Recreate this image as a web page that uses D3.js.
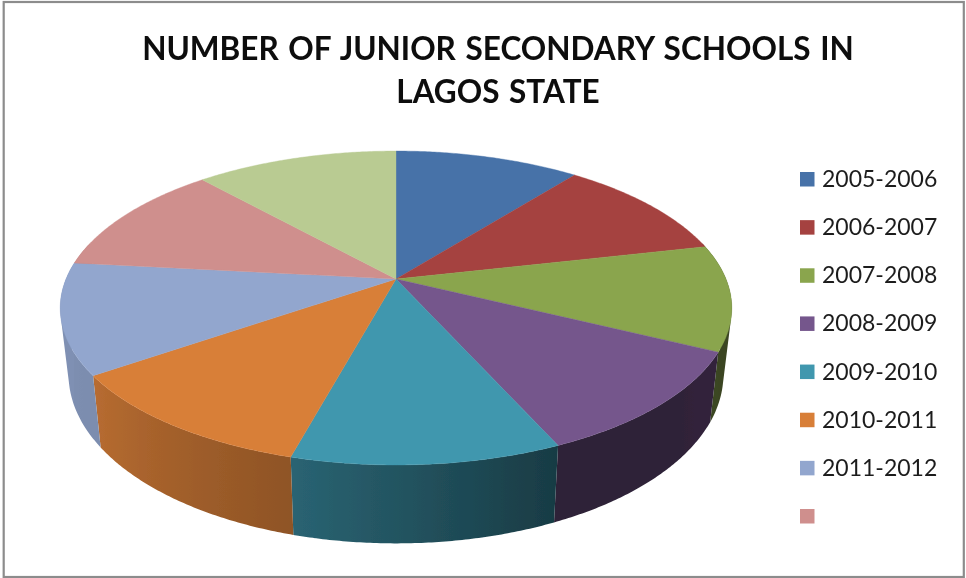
<!DOCTYPE html>
<html>
<head>
<meta charset="utf-8">
<script src="https://cdn.jsdelivr.net/npm/d3@7"></script>
<style>
html,body{margin:0;padding:0;background:#fff;overflow:hidden}
svg{display:block}
</style>
</head>
<body>
<svg id="chart" width="966" height="578"></svg>
<script>
const titleLines = ["NUMBER OF JUNIOR SECONDARY SCHOOLS IN", "LAGOS STATE"];
const legendLabels = ["2005-2006","2006-2007","2007-2008","2008-2009","2009-2010","2010-2011","2011-2012",""];
const values = [383, 389, 391, 396, 393, 400, 410, 419, 419];
const colors = ["#4672a8","#a5423f","#8aa54e","#74568c","#3f97ae","#d87f39","#92a6ce","#cf8f8d","#b9cb92"];

const svg = d3.select("#chart");
const cx = 396, cy = 279, rx = 330, ry = 151.6, k = 0.1847;
const botSX = 0.975, botSY = 1.075, botD = 64.5;
const shade = d3.scaleLinear().domain([100,156,195,235,280]).range([.43,.39,.66,.85,.87]).clamp(true);

function topRim(a){ const u=Math.sin(a), v=-Math.cos(a), w=1-k*v;
  return [cx+rx*u/w, cy+ry*v/w]; }
function bottomRim(a){ const p=topRim(a);
  return [cx+botSX*(p[0]-cx), cy+botD+botSY*(p[1]-cy)]; }

const arcs = d3.pie().sort(null).value(d=>d)(values);
const line = d3.line();
const step = Math.PI/180*0.5;
const samples = (a0,a1)=>{ const n=Math.max(2,Math.ceil((a1-a0)/step));
  return d3.range(n+1).map(i=>a0+(a1-a0)*i/n); };

const defs = svg.append("defs");
const soft = defs.append("filter").attr("id","soft").attr("x","-5%").attr("y","-5%").attr("width","110%").attr("height","110%");
soft.append("feGaussianBlur").attr("stdDeviation",0.45);

svg.append("rect").attr("x",3.7).attr("y",2).attr("width",960.1).attr("height",575)
  .attr("fill","#fff").attr("stroke","#8c8c8c").attr("stroke-width",2.2);

const root = svg.append("g").attr("filter","url(#soft)");

// side wall: one path per slice, made of same-wound quads so there are no seams
const gSide = root.append("g");
arcs.forEach((d,i)=>{
  const s = samples(d.startAngle,d.endAngle).filter(a=>Math.cos(a)<=0.25);
  if(s.length<2) return;
  const base = d3.rgb(colors[i]);
  const x0 = topRim(s[0])[0], x1 = topRim(s[s.length-1])[0];
  const grad = defs.append("linearGradient").attr("id","side"+i)
    .attr("gradientUnits","userSpaceOnUse")
    .attr("x1",x0).attr("x2",x1).attr("y1",0).attr("y2",0);
  const off = a => (topRim(a)[0]-x0)/(x1-x0);
  s.filter((a,j)=>j%4===0||j===s.length-1)
   .map(a=>({o:Math.max(0,Math.min(1,off(a))),a}))
   .sort((p,q)=>p.o-q.o)
   .forEach(p=>{
     const f=shade(p.a*180/Math.PI);
     grad.append("stop").attr("offset",p.o)
       .attr("stop-color",d3.rgb(base.r*f,base.g*f,base.b*f).formatHex());
   });
  const path = d3.pairs(s).map(([a,b])=>{
    const quad=[topRim(a),topRim(b),bottomRim(b),bottomRim(a)];
    if(d3.polygonArea(quad)<0) quad.reverse();
    return line(quad)+"Z";
  }).join("");
  gSide.append("path").attr("d",path).attr("fill",`url(#side${i})`);
});

// top face
root.append("g").selectAll("path").data(arcs).join("path")
  .attr("d",d=>line([[cx,cy],...samples(d.startAngle,d.endAngle).map(topRim)])+"Z")
  .attr("fill",(d,i)=>colors[i]).attr("stroke",(d,i)=>colors[i]).attr("stroke-width",.4);

// title
root.append("g").selectAll("text").data(titleLines).join("text")
  .attr("x",498).attr("y",(d,i)=>60+i*43)
  .attr("text-anchor","middle")
  .attr("font-family","Lato, 'Open Sans', sans-serif").attr("font-weight",700)
  .attr("font-size",31.5).attr("fill","#0a0a0a").attr("word-spacing",2)
  .text(d=>d);

// legend
const leg = d3.scaleLinear().domain([0,7]).range([179,516]);
const g = root.append("g").selectAll("g").data(legendLabels).join("g")
  .attr("transform",(d,i)=>`translate(800,${leg(i)})`);
g.append("rect").attr("x",0).attr("y",-7).attr("width",14.5).attr("height",14.5)
  .attr("fill",(d,i)=>colors[i]);
g.append("text").attr("x",22).attr("y",8)
  .attr("font-family","Lato, 'Open Sans', sans-serif").attr("font-size",23)
  .attr("fill","#1c1c1c").text(d=>d);
</script>
</body>
</html>
